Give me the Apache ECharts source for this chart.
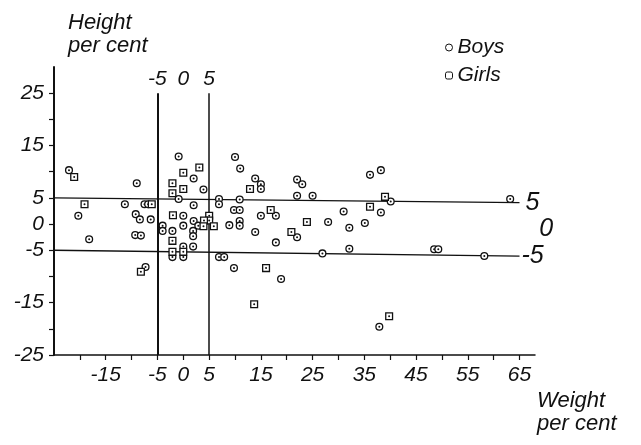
<!DOCTYPE html>
<html>
<head>
<meta charset="utf-8">
<title>Height vs weight per cent</title>
<script src="https://cdn.jsdelivr.net/npm/echarts@6/dist/echarts.min.js"></script>
<style>
    html, body { margin: 0; padding: 0; background: #fff; }
    #chart { width: 641px; height: 445px; }
</style>
</head>
<body>
<div id="chart"></div>
<script>
    // [weight %, height %]
    var boys = [
        [-22.1, 10.3], [-9.0, 7.8], [-11.3, 3.8], [-7.5, 3.8], [-6.8, 3.8],
        [-20.3, 1.6], [-9.2, 1.9], [-8.4, 0.9], [-6.3, 0.9], [-4.0, -0.3],
        [-4.0, -1.3], [-9.3, -2.1], [-8.2, -2.2], [-18.2, -2.9], [-7.3, -8.2],
        [-0.9, 12.9], [2.0, 8.7], [3.9, 6.6], [-0.9, 4.8], [2.0, 3.6],
        [6.9, 4.8], [6.9, 3.8], [10.0, 12.8], [0, 1.6], [2.0, 0.6],
        [0, -0.3], [2.9, -0.3], [1.9, -1.3], [1.9, -2.3], [-2.1, -1.3],
        [1.9, -4.3], [0, -4.3], [-2.1, -6.3], [0, -6.3], [6.9, -6.3],
        [7.9, -6.3], [9.8, -8.4], [18.9, -10.5], [17.9, -3.5], [13.9, -1.5],
        [11.0, 10.6], [13.9, 8.7], [15.0, 7.6], [15.0, 6.7], [10.9, 4.7],
        [9.8, 2.7], [10.9, 2.7], [17.9, 1.6], [15.0, 1.6], [10.9, 0.6],
        [10.9, -0.3], [8.9, -0.2], [22.0, 8.5], [23.0, 7.6], [22.0, 5.4],
        [25.0, 5.4], [31.0, 2.4], [38.2, 10.3], [36.1, 9.4], [40.1, 4.3],
        [38.2, 2.2], [28.0, 0.4], [32.1, -0.7], [35.1, 0.2], [22.0, -2.5],
        [32.1, -4.7], [26.9, -5.6], [63.2, 4.8], [48.5, -4.8], [49.3, -4.8],
        [58.2, -6.1], [37.9, -19.6]
    ];
    var girls = [
        [-21.1, 9.0], [-19.1, 3.8], [-6.1, 3.8], [-8.2, -9.1], [3.1, 10.8],
        [0, 9.8], [-2.1, 7.8], [0, 6.7], [-2.1, 5.9], [-2.0, 1.7],
        [5.0, 1.6], [5.0, 0.7], [4.0, 0.7], [3.9, -0.4], [5.9, -0.4],
        [-2.1, -3.2], [-2.1, -5.3], [0, -5.3], [16.0, -8.4], [13.7, -15.3],
        [12.9, 6.7], [16.9, 2.7], [36.1, 3.3], [39.0, 5.2], [23.9, 0.4],
        [20.9, -1.5], [39.8, -17.6]
    ];
    var xTicks = [-20, -15, -10, -5, 0, 5, 10, 15, 20, 25, 30, 35, 40, 45, 50, 55, 60, 65];
    var xLabels = [-15, -5, 0, 5, 15, 25, 35, 45, 55, 65];
    var yTicks = [-25, -20, -15, -10, -5, 0, 5, 10, 15, 20, 25];
    var yLabels = [-25, -15, -5, 0, 5, 15, 25];

    var font = "'Liberation Sans', Arial, sans-serif";
    var ink = '#111';

    function mark(kind) {
        return function (params, api) {
            var p = api.coord([api.value(0), api.value(1)]);
            var r = 3.4;
            var outline = kind === 'circle'
                ? {type: 'circle', shape: {cx: p[0], cy: p[1], r: r}}
                : {type: 'rect', shape: {x: p[0] - r, y: p[1] - r, width: 2 * r, height: 2 * r}};
            outline.style = {fill: '#fff', stroke: ink, lineWidth: 1.3};
            return {
                type: 'group',
                children: [
                    outline,
                    {type: 'circle', shape: {cx: p[0], cy: p[1], r: 1}, style: {fill: ink}}
                ]
            };
        };
    }

    // a drawn reference line with its number at the far end; width 0 = label only
    function guide(from, to, text, width, lbl) {
        return [
            {coord: from,
             lineStyle: {type: 'solid', width: width, color: width ? ink : 'rgba(0,0,0,0)'},
             label: Object.assign({show: true, formatter: text, color: ink, fontFamily: font,
                                   fontStyle: 'italic'}, lbl)},
            {coord: to}
        ];
    }

    var chart = echarts.init(document.getElementById('chart'));
    chart.setOption({
        animation: false,
        backgroundColor: '#fff',
        grid: {left: 54, right: 106, top: 67, bottom: 90},
        legend: {
            orient: 'vertical', left: 445, top: 37, padding: 0,
            itemWidth: 7, itemHeight: 7, itemGap: 7,
            textStyle: {fontSize: 21, fontStyle: 'italic', fontFamily: font, color: ink},
            data: [
                {name: 'Boys', icon: 'circle', itemStyle: {color: '#fff', borderColor: ink, borderWidth: 1}},
                {name: 'Girls', icon: 'roundRect', itemStyle: {color: '#fff', borderColor: ink, borderWidth: 1}}
            ]
        },
        xAxis: {
            type: 'value', min: -25, max: 68,
            name: 'Weight\nper cent', nameLocation: 'end', nameGap: -8,
            nameTextStyle: {fontSize: 22, fontStyle: 'italic', fontFamily: font, color: ink,
                            align: 'left', verticalAlign: 'top', lineHeight: 23, padding: [34, 0, 0, 0]},
            axisLine: {onZero: false, lineStyle: {color: ink, width: 1.5}},
            axisTick: {customValues: xTicks, length: 5, lineStyle: {color: ink, width: 1.2}},
            axisLabel: {customValues: xLabels, margin: 10, fontSize: 21, fontStyle: 'italic',
                        fontFamily: font, color: ink},
            splitLine: {show: false}
        },
        yAxis: {
            type: 'value', min: -25, max: 30,
            name: 'Height\nper cent', nameLocation: 'end', nameGap: 10,
            nameTextStyle: {fontSize: 22, fontStyle: 'italic', fontFamily: font, color: ink,
                            align: 'left', verticalAlign: 'bottom', lineHeight: 23, padding: [0, 0, 0, 14]},
            axisLine: {onZero: false, lineStyle: {color: ink, width: 2}},
            axisTick: {customValues: yTicks, length: 5, lineStyle: {color: ink, width: 1.2}},
            axisLabel: {customValues: yLabels, margin: 10, fontSize: 21, fontStyle: 'italic',
                        fontFamily: font, color: ink},
            splitLine: {show: false}
        },
        series: [
            {name: 'Boys', type: 'custom', renderItem: mark('circle'), data: boys, z: 5},
            {name: 'Girls', type: 'custom', renderItem: mark('square'), data: girls, z: 5},
            {
                name: 'guides', type: 'scatter', data: [], silent: true,
                markLine: {
                    silent: true, symbol: 'none', animation: false,
                    data: [
                        guide([-5, -25], [-5, 25], '-5', 2, {fontSize: 21, distance: 4}),
                        guide([0, -25], [0, 25], '0', 0, {fontSize: 21, distance: 4}),
                        guide([5, -25], [5, 25], '5', 1.5, {fontSize: 21, distance: 4}),
                        guide([-25, 5], [65, 4.1], '5', 1.3, {fontSize: 25, distance: 6}),
                        guide([-25, 0], [66.5, -1], '0', 0, {fontSize: 25, distance: 12}),
                        guide([-25, -5], [65, -6.1], '-5', 1.3, {fontSize: 25, distance: 2})
                    ]
                }
            }
        ]
    });
</script>
</body>
</html>
